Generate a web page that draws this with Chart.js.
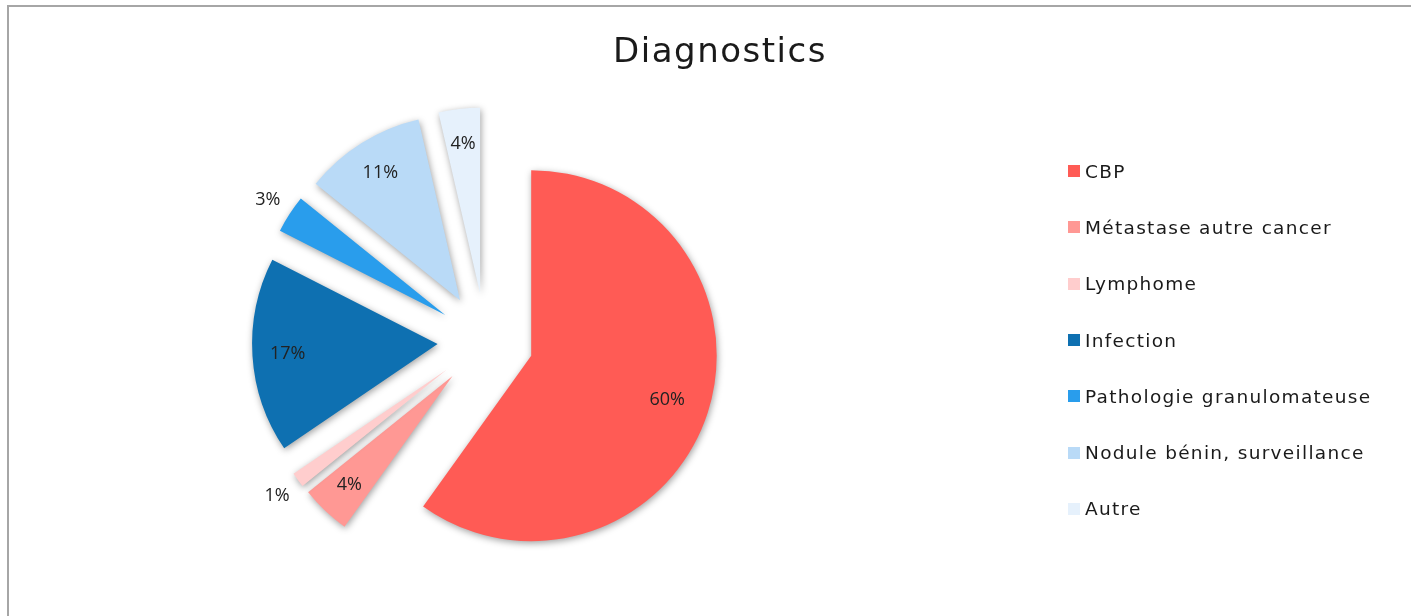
<!DOCTYPE html>
<html>
<head>
<meta charset="utf-8">
<script src="https://cdn.jsdelivr.net/npm/chart.js"></script>
<style>
  body { margin: 0; overflow: hidden; background: #fff; }
  #frame { position: absolute; left: 7px; top: 5px; width: 1424px; height: 620px; border: 2px solid #a6a6a6; }
  #title { position: absolute; left: 420px; width: 600px; top: 30px; line-height: 40px; text-align: center;
           font-family: 'DejaVu Sans', sans-serif; font-size: 34px; letter-spacing: 1.5px; color: #1a1a1a; }
  #legend { position: absolute; left: 1068px; top: 143px; margin: 0; padding: 0; list-style: none;
            font-family: 'DejaVu Sans', sans-serif; font-size: 18.5px; letter-spacing: 1.3px; color: #1a1a1a; }
  #legend li { height: 56.3px; display: flex; align-items: center; white-space: nowrap; }
  #legend span { display: inline-block; width: 12px; height: 12px; margin-right: 5px; }
</style>
</head>
<body>
<div id="frame"><canvas id="chart"></canvas></div>
<div id="title">Diagnostics</div>
<ul id="legend"></ul>
<script>
const labels = ['CBP', 'Métastase autre cancer', 'Lymphome', 'Infection',
                'Pathologie granulomateuse', 'Nodule bénin, surveillance', 'Autre'];
// shares in % (labels show them rounded)
const values = [59.9, 4.3, 1.3, 17.0, 3.3, 10.6, 3.6];
const colors = ['#ff5b55', '#ff9894', '#ffcdcd', '#0e70b1', '#299dec', '#b9daf7', '#e6f1fc'];

// every slice is pulled out of the pie by the same distance (px)
const explode = 48;

const legend = document.getElementById('legend');
labels.forEach((l, i) => {
    const li = document.createElement('li');
    li.innerHTML = '<span style="background:' + colors[i] + '"></span>' + l;
    legend.appendChild(li);
});

const slicePlugin = {
    id: 'slices',
    afterDatasetsUpdate(chart) {
        chart.getDatasetMeta(0).data.forEach(arc => {
            const mid = (arc.startAngle + arc.endAngle) / 2;
            arc.x += Math.cos(mid) * explode;
            arc.y += Math.sin(mid) * explode;
        });
    },
    beforeDatasetsDraw(chart) {
        const c = chart.ctx;
        c.save();
        c.shadowColor = 'rgba(0,0,0,0.38)';
        c.shadowBlur = 7;
        c.shadowOffsetX = 1;
        c.shadowOffsetY = 2;
    },
    afterDatasetsDraw(chart) {
        const c = chart.ctx;
        c.restore();
        const total = values.reduce((a, b) => a + b, 0);
        c.save();
        c.font = '18px "Open Sans"';
        c.fillStyle = '#222';
        c.textAlign = 'center';
        c.textBaseline = 'middle';
        chart.getDatasetMeta(0).data.forEach((arc, i) => {
            const pct = Math.round(values[i] / total * 100);
            const mid = (arc.startAngle + arc.endAngle) / 2;
            // small slices get their label outside
            const r = arc.outerRadius * (pct < 4 ? 1.14 : (pct > 50 ? 0.77 : 0.81));
            c.fillText(pct + '%', arc.x + Math.cos(mid) * r, arc.y + Math.sin(mid) * r);
        });
        c.restore();
    }
};

const ctx = document.querySelector('#chart').getContext('2d');
const chart = new Chart(ctx, {
    type: 'pie',
    data: {
        labels: labels,
        datasets: [{
            data: values,
            backgroundColor: colors,
            borderWidth: 0,
        }]
    },
    options: {
        responsive: true,
        maintainAspectRatio: false,
        animation: false,
        radius: 185.5,
        layout: {
            padding: { left: 0, right: 471, top: 48, bottom: 0 }
        },
        plugins: {
            legend: { display: false },
            tooltip: { enabled: false },
            title: { display: false }
        }
    },
    plugins: [slicePlugin]
});
</script>
</body>
</html>
